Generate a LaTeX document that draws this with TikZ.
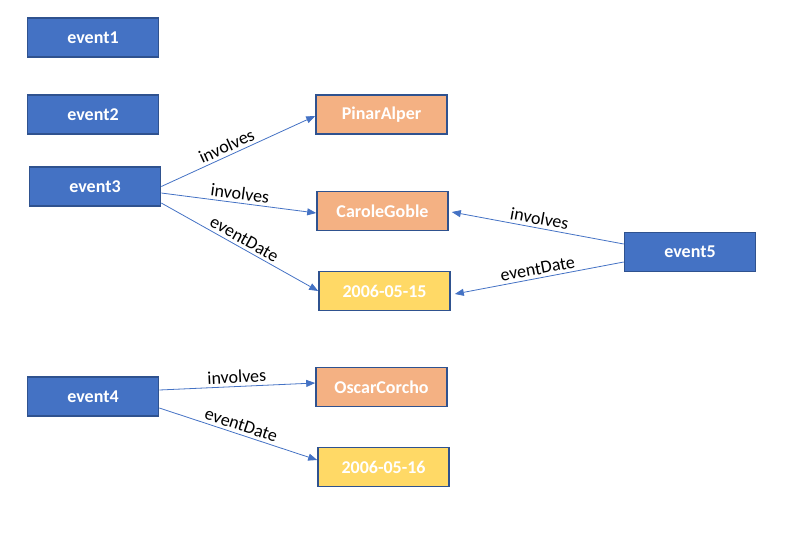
\documentclass[tikz,border=0pt]{standalone}
\usepackage{fontspec}
\setmainfont{Carlito}
\usepackage{xcolor}
\usetikzlibrary{arrows.meta}
\definecolor{evblue}{HTML}{4472C4}
\definecolor{evedge}{HTML}{2F528F}
\definecolor{personfill}{HTML}{F4B183}
\definecolor{datefill}{HTML}{FFD966}
\tikzset{
  card/.style={rectangle, draw=evedge, line width=1.6pt, fill=#1,
    minimum width=131pt, minimum height=39pt, inner sep=0pt,
    text=white, font=\fontsize{18}{21}\selectfont\bfseries},
  card/.default=evblue,
  person/.style={card=personfill},
  date/.style={card=datefill},
  rel/.style={-{Triangle[length=9pt,width=7pt]}, line width=0.8pt, draw=evblue},
  rlbl/.style={sloped, above, inner sep=3pt, text=black,
    font=\fontsize{18}{21}\selectfont},
}

\begin{document}
\begin{tikzpicture}[x=1pt, y=-1pt]
    \useasboundingbox (0,0) rectangle (798,547);
    \node[card] (e1) at (93,37.5) {event1};
    \node[card] (e2) at (93,114.5) {event2};
    \node[card] (e3) at (95,186.5) {event3};
    \node[card] (e4) at (93,396.5) {event4};
    \node[card] (e5) at (690,252) {event5};
    \node[person] (pinar) at (381.5,114.5) {PinarAlper};
    \node[person] (carole) at (382.5,211) {CaroleGoble};
    \node[date] (d15) at (384.5,291) {2006-05-15};
    \node[person] (oscar) at (381.5,387) {OscarCorcho};
    \node[date] (d16) at (383.5,467) {2006-05-16};

    \draw[rel] (e3.east) -- node[rlbl, pos=0.45] {involves} ([yshift=-1.5pt]pinar.west);
    \draw[rel] ([yshift=-6.5pt]e3.east) -- node[rlbl] {involves} ([yshift=-2pt]carole.west);
    \draw[rel] ([yshift=-16.5pt]e3.east) -- node[rlbl] {eventDate} (d15.west);
    \draw[rel] ([yshift=8pt]e5.west) -- node[rlbl] {involves} ([xshift=3pt,yshift=-1pt]carole.east);
    \draw[rel] ([yshift=-10pt]e5.west) -- node[rlbl] {eventDate} ([xshift=4pt,yshift=-3pt]d15.east);
    \draw[rel] ([yshift=6.5pt]e4.east) -- node[rlbl] {involves} ([yshift=4pt]oscar.west);
    \draw[rel] ([yshift=-11.5pt]e4.east) -- node[rlbl] {eventDate} ([yshift=7pt]d16.west);
\end{tikzpicture}
\end{document}
